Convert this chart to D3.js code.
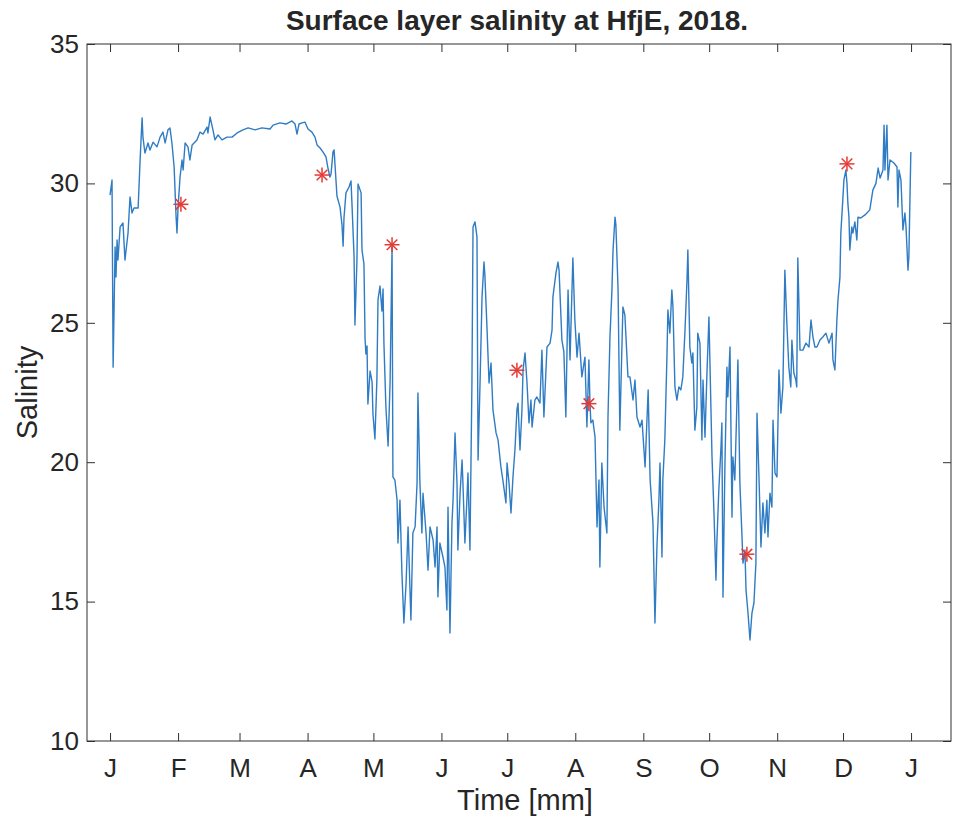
<!DOCTYPE html>
<html>
<head>
<meta charset="utf-8">
<script src="https://cdn.jsdelivr.net/npm/d3@7"></script>
<style>
  html, body { margin: 0; padding: 0; background: #fff; }
  svg { display: block; }
  text { font-family: "Liberation Sans", Arial, Helvetica, sans-serif; fill: #262626; }
</style>
</head>
<body>
<svg id="chart" width="955" height="817"></svg>
<script>
// Day of year 2018 (0 = 1 Jan) for each sample of the surface salinity record
const days = [
  0, 0.9, 1.4, 2.3, 2.7, 3.2, 3.6, 4.6, 5.9, 6.8, 8.2, 9.1, 10.0, 10.9, 12.8, 13.7, 14.6, 15.0, 15.9, 17.3,
  18.2, 19.6, 21.4, 22.8, 24.1, 25.1, 26.4, 27.3, 28.2, 29.2, 30.1, 30.5, 31.0, 31.9, 32.8, 33.3, 34.2, 35.5, 36.4, 37.4,
  39.6, 41.0, 42.4, 44.2, 44.6, 45.6, 46.9, 47.8, 49.2, 51.0, 53.3, 55.6, 57.9, 60.6, 62.9,
  66.1, 69.2, 72.9, 74.3, 77.4, 80.2, 82.9, 84.3, 85.2, 86.1, 87.5, 88.8, 90.2, 92.0, 93.4, 94.3, 95.7, 97.0, 98.4, 99.3,
  100.2, 100.7, 101.6, 102.1, 103.0, 103.4, 104.8, 105.7, 106.2, 106.6, 107.5, 108.9, 109.8, 110.3, 111.2, 111.6, 112.5, 113.0, 114.4, 114.8,
  115.7, 116.2, 116.6, 117.1, 117.5, 118.5, 119.4, 119.8, 120.7, 121.6, 122.1, 123.0, 123.9, 124.4, 124.8, 125.7, 126.7, 127.6, 128.5, 128.9,
  129.8, 130.8, 131.2, 132.1, 133.0, 133.9, 134.9, 135.8, 137.1, 138.0, 139.0, 139.9, 140.3, 141.2, 142.1, 142.6, 144.0, 144.9, 145.8, 147.2,
  148.1, 149.0, 149.4, 150.3, 151.7, 152.6, 153.5, 154.0, 154.9, 155.8, 156.3, 157.2, 158.1, 158.5, 159.5, 160.4, 160.8, 161.7, 162.6, 163.1,
  164.0, 164.9, 165.4, 166.3, 167.2, 167.7, 168.6, 169.5, 170.4, 170.8, 171.8, 172.7, 173.6, 174.5, 175.9, 176.8, 178.1, 179.0, 180.4, 180.9,
  181.8, 182.7, 183.6, 184.5, 185.4, 185.9, 186.8, 187.7, 188.2, 189.1, 190.0, 190.9, 191.8, 192.3, 193.6, 194.5, 195.9, 196.8, 197.7, 199.1,
  200.5, 201.4, 201.8, 203.2, 204.1, 204.6, 205.9, 206.8, 207.7, 208.7, 209.6, 210.9, 211.8, 212.8, 213.7, 215.0, 216.4, 217.3, 218.2, 218.7,
  219.1, 220.0, 221.0, 221.9, 222.8, 223.2, 224.1, 225.1, 226.4, 226.9, 227.8, 228.7, 229.2, 230.1, 230.5, 231.5, 232.3, 233.7, 234.6, 236.0,
  236.9, 238.3, 239.2, 240.1, 241.5, 242.4, 243.8, 245.2, 246.1, 247.4, 248.3, 249.2, 250.1, 250.6, 251.5, 251.9, 252.8, 253.8, 254.2, 255.1,
  256.0, 256.5, 257.4, 258.3, 259.2, 260.1, 261.0, 262.0, 262.9, 263.3, 264.2, 265.1, 265.6, 266.5, 267.4, 267.8, 268.8, 269.7, 270.2, 271.1,
  272.0, 272.9, 273.4, 274.3, 275.2, 276.1, 276.5, 277.4, 278.4, 278.8, 279.3, 280.2, 281.1, 281.5, 282.5, 283.4, 283.8, 284.7, 285.6, 286.1,
  287.0, 287.9, 288.4, 289.3, 289.8, 290.7, 291.6, 292.5, 293.4, 294.3, 294.8, 295.7, 296.6, 297.5, 298.4, 299.3, 299.8, 300.7, 301.6, 302.1,
  303.0, 303.9, 304.8, 305.7, 306.6, 307.5, 308.4, 309.3, 310.2, 310.7, 311.6, 312.5, 312.9, 313.4, 314.4, 315.7, 317.1, 318.5, 319.4, 320.3,
  321.2, 322.1, 323.5, 324.8, 326.2, 327.6, 329.0, 329.4, 330.3, 331.2, 331.7, 332.6, 333.0, 333.9, 334.4, 335.3, 335.8, 336.2, 336.7, 337.1,
  338.0, 338.5, 339.4, 340.3, 340.8, 342.1, 344.0, 346.2, 347.6, 349.0, 350.0, 350.9, 352.2, 352.7, 353.1, 354.0, 354.5, 355.4, 357.2, 358.6,
  359.0, 359.5, 360.4, 361.3, 362.2, 362.7, 363.6, 364.0, 364.9
];

// Salinity at each of those times
const salinity = [
  29.58, 30.12, 23.41, 27.72, 26.64, 27.97, 27.25, 28.44, 28.58, 27.25, 28.22, 29.51, 28.94, 29.12, 29.12, 30.84, 32.35, 31.66, 31.09, 31.45,
  31.20, 31.48, 31.31, 31.66, 31.84, 31.45, 31.92, 31.99, 31.45, 30.59, 28.79, 28.22, 29.15, 30.23, 30.84, 30.48, 31.45, 31.31, 30.84, 31.38,
  31.56, 31.84, 31.77, 32.02, 31.81, 32.38, 31.92, 31.56, 31.74, 31.56, 31.66, 31.66, 31.81, 31.92, 31.99,
  31.92, 31.99, 31.95, 32.09, 32.17, 32.13, 32.24, 32.13, 31.77, 32.13, 32.17, 32.20, 31.95, 31.84, 31.66, 31.38, 31.27, 31.13, 30.95, 30.55,
  30.23, 30.34, 31.13, 31.20, 30.05, 29.55, 29.15, 28.51, 27.75, 28.76, 29.66, 29.87, 30.09, 29.15, 27.36, 24.92, 27.22, 29.98, 29.66, 27.61,
  27.11, 24.42, 23.88, 24.17, 22.09, 23.27, 22.88, 21.73, 20.83, 22.98, 25.82, 26.32, 25.42, 26.21, 24.27, 21.98, 20.58, 22.84, 27.72, 19.47,
  19.36, 18.64, 17.10, 18.64, 16.03, 14.23, 15.67, 17.68, 14.34, 17.46, 17.68, 19.25, 22.48, 19.25, 17.46, 18.89, 17.46, 16.13, 17.68, 17.21,
  16.24, 17.68, 15.17, 17.10, 16.60, 16.24, 14.70, 18.39, 13.87, 17.82, 18.64, 21.05, 19.25, 16.85, 18.89, 20.08, 19.25, 17.10, 18.64, 19.61,
  16.85, 22.84, 28.44, 28.62, 28.08, 20.08, 22.84, 25.92, 27.18, 26.71, 24.74, 22.84, 23.56, 21.87, 21.05, 20.80, 19.83, 19.36, 18.54, 19.97,
  19.25, 18.18, 19.47, 20.44, 21.87, 22.12, 20.44, 21.87, 23.31, 23.92, 22.84, 21.41, 22.23, 21.26, 22.23, 22.34, 22.12, 24.02, 21.62, 24.13,
  24.27, 24.74, 25.92, 26.79, 27.18, 26.89, 24.38, 23.96, 21.62, 26.18, 23.67, 27.33, 25.10, 23.77, 24.63, 23.06, 23.77, 21.26, 23.67, 22.12,
  21.41, 21.51, 20.90, 17.68, 19.36, 16.24, 19.97, 18.39, 17.46, 21.62, 24.49, 26.18, 27.61, 28.79, 28.51, 26.18, 21.15, 25.57, 25.28, 23.06,
  23.06, 22.23, 22.95, 21.62, 21.26, 21.51, 19.83, 22.59, 19.36, 17.82, 14.23, 16.96, 18.64, 19.97, 16.60, 19.36, 20.80, 23.92, 25.46, 24.63,
  26.18, 25.57, 22.70, 22.23, 22.70, 22.59, 23.06, 24.74, 26.54, 27.61, 24.13, 23.56, 23.92, 21.15, 21.98, 24.63, 24.27, 20.80, 22.95, 20.90,
  23.20, 25.21, 23.41, 20.19, 18.18, 15.77, 17.10, 19.00, 20.55, 21.41, 15.16, 19.97, 23.41, 22.34, 24.13, 18.03, 20.19, 19.36, 21.98, 23.67,
  19.25, 17.46, 16.38, 16.85, 15.41, 14.59, 13.62, 14.59, 14.95, 16.38, 21.76, 19.47, 16.96, 18.54, 17.46, 18.64, 17.32, 18.89, 18.39, 21.51,
  19.61, 19.47, 23.31, 21.76, 22.70, 26.89, 24.99, 23.41, 22.70, 24.38, 23.20, 22.95, 22.70, 27.33, 24.02, 24.02, 24.27, 24.13, 25.10, 24.49,
  24.13, 24.13, 24.38, 24.49, 24.63, 24.27, 24.63, 23.67, 23.31, 25.10, 25.82, 26.64, 28.22, 29.41, 30.12, 30.48, 30.00, 29.30, 28.79, 27.61,
  28.44, 28.22, 28.62, 27.97, 28.79, 28.76, 28.87, 29.05, 29.76, 30.00, 30.55, 30.19, 30.48, 32.09, 30.48, 32.09, 30.12, 30.84, 30.73, 30.59,
  29.15, 30.48, 30.12, 28.33, 28.94, 28.44, 26.89, 27.36, 31.13
];

// Discrete sample occasions (red asterisks)
const sampleDays = [32.3, 96.6, 128.5, 185.4, 218.2, 290.2, 335.8];
const sampleSalinity = [29.25, 30.3, 27.8, 23.3, 22.1, 16.7, 30.7];

// Month ticks: first day of each month, 2018 through Jan 2019
const monthStarts = [0, 31, 59, 90, 120, 151, 181, 212, 243, 273, 304, 334, 365];
const monthLabels = ["J", "F", "M", "A", "M", "J", "J", "A", "S", "O", "N", "D", "J"];
const salinityTicks = [10, 15, 20, 25, 30, 35];

const svg = d3.select("#chart");
const box = { left: 87, right: 951, top: 44, bottom: 741 };

const x = d3.scaleLinear().domain([-10.5, 383.2]).range([box.left, box.right]);
const y = d3.scaleLinear().domain([10, 35]).range([box.bottom, box.top]);

const axisColor = "#303030";
const tickLen = 8;
const fontStack = "'Liberation Sans', Arial, Helvetica, sans-serif";

// Plot frame
svg.append("rect")
  .attr("x", box.left).attr("y", box.top)
  .attr("width", box.right - box.left).attr("height", box.bottom - box.top)
  .attr("fill", "none").attr("stroke", axisColor).attr("stroke-width", 1);

// Inward ticks on all four sides, drawn with d3 axes
const bottomAxis = d3.axisBottom(x).tickValues(monthStarts).tickSizeInner(-tickLen).tickSizeOuter(0)
  .tickFormat((d, i) => monthLabels[i]).tickPadding(18);
const topAxis = d3.axisTop(x).tickValues(monthStarts).tickSizeInner(-tickLen).tickSizeOuter(0).tickFormat("");
const leftAxis = d3.axisLeft(y).tickValues(salinityTicks).tickSizeInner(-tickLen).tickSizeOuter(0).tickPadding(8);
const rightAxis = d3.axisRight(y).tickValues(salinityTicks).tickSizeInner(-tickLen).tickSizeOuter(0).tickFormat("");

function styleAxis(g) {
  g.select(".domain").remove();
  g.selectAll(".tick line").attr("stroke", axisColor).attr("stroke-width", 1);
  g.selectAll(".tick text")
    .attr("fill", "#262626")
    .style("font-family", fontStack)
    .style("font-size", "26px");
}

svg.append("g").attr("transform", `translate(0,${box.bottom})`).call(bottomAxis).call(styleAxis);
svg.append("g").attr("transform", `translate(0,${box.top})`).call(topAxis).call(styleAxis);
svg.append("g").attr("transform", `translate(${box.left},0)`).call(leftAxis).call(styleAxis);
svg.append("g").attr("transform", `translate(${box.right},0)`).call(rightAxis).call(styleAxis);

// Salinity time series
const series = days.map((d, i) => [d, salinity[i]]);
svg.append("path")
  .datum(series)
  .attr("fill", "none")
  .attr("stroke", "#2f7cc4")
  .attr("stroke-width", 1.4)
  .attr("stroke-linejoin", "round")
  .attr("d", d3.line().x(d => x(d[0])).y(d => y(d[1])));

// Asterisk markers for the sampling occasions
const r = 7.5;
const spokes = [0, 45, 90, 135];
const markers = svg.append("g").selectAll("g")
  .data(sampleDays.map((d, i) => [d, sampleSalinity[i]]))
  .join("g")
  .attr("transform", d => `translate(${x(d[0])},${y(d[1])})`);
markers.selectAll("line")
  .data(spokes)
  .join("line")
  .attr("x1", a => -r * Math.cos(a * Math.PI / 180))
  .attr("y1", a => -r * Math.sin(a * Math.PI / 180))
  .attr("x2", a => r * Math.cos(a * Math.PI / 180))
  .attr("y2", a => r * Math.sin(a * Math.PI / 180))
  .attr("stroke", "#e53935")
  .attr("stroke-width", 1.5);

// Titles
svg.append("text")
  .attr("x", 517).attr("y", 30)
  .attr("text-anchor", "middle")
  .style("font-size", "28px").style("font-weight", "bold")
  .text("Surface layer salinity at HfjE, 2018.");

svg.append("text")
  .attr("x", 525).attr("y", 810)
  .attr("text-anchor", "middle")
  .style("font-size", "29px")
  .text("Time [mm]");

svg.append("text")
  .attr("transform", `translate(37,${(box.top + box.bottom) / 2}) rotate(-90)`)
  .attr("text-anchor", "middle")
  .style("font-size", "29px")
  .text("Salinity");
</script>
</body>
</html>
